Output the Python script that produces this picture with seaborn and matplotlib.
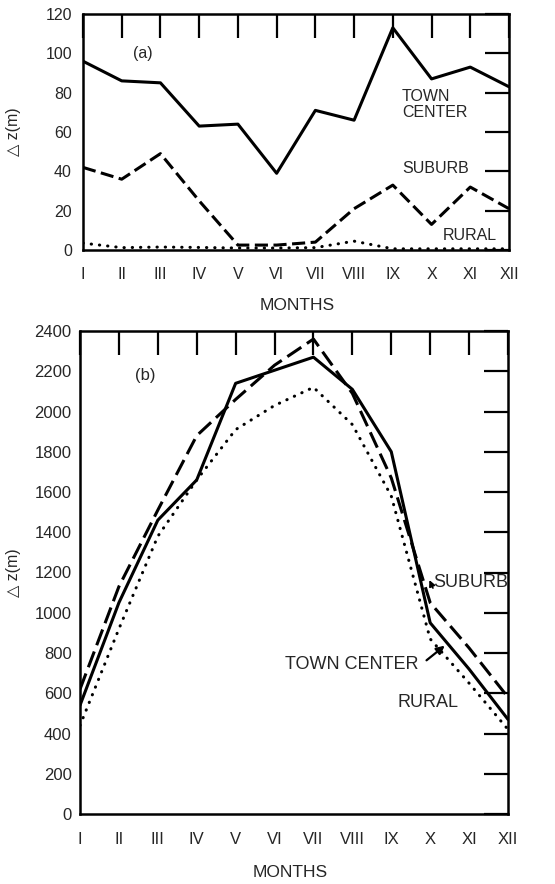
import numpy as np
import pandas as pd
import matplotlib
matplotlib.use("Agg")
import matplotlib.pyplot as plt
import seaborn as sns

# ---------------- data ----------------
months = ["I", "II", "III", "IV", "V", "VI", "VII", "VIII", "IX", "X", "XI", "XII"]
month_pos = list(range(1, 13))

# panel (a)
town_a = [96, 86, 85, 63, 64, 39, 71, 66, 113, 87, 93, 83]
suburb_a = [42, 36, 49, 25, 2.5, 2.5, 4, 21, 33, 13, 32, 21]
rural_a = [3.5, 1.2, 1.5, 1.3, 1, 1, 1.2, 4.5, 0.6, 0.6, 0.6, 0.6]

# panel (b)
town_b = [540, 1050, 1460, 1660, 2140, 2205, 2270, 2110, 1800, 950, 720, 470]
suburb_b = [620, 1130, 1510, 1880, 2060, 2230, 2360, 2090, 1670, 1050, 825, 580]
rural_b = [440, 920, 1380, 1660, 1910, 2030, 2120, 1935, 1580, 870, 650, 420]

yticks_a = [0, 20, 40, 60, 80, 100, 120]
yticks_b = list(range(0, 2401, 200))

# ---------------- style ----------------
sns.set_style("white")
plt.rcParams['font.family'] = ['Liberation Sans', 'DejaVu Sans']

fig = plt.figure(figsize=(5.55, 8.84), dpi=100)
ax1 = fig.add_axes([83 / 555, 1 - 250 / 884, 426 / 555, 236 / 884])
ax2 = fig.add_axes([80 / 555, 1 - 814 / 884, 428 / 555, 483 / 884])

LW = 2.2


def draw(ax, town, suburb, rural, dash):
    df = pd.DataFrame({"month": month_pos * 3,
                       "dz": town + suburb + rural,
                       "zone": ["TOWN CENTER"] * 12 + ["SUBURB"] * 12 + ["RURAL"] * 12})
    sns.lineplot(data=df[df.zone == "RURAL"], x="month", y="dz", ax=ax, color="black",
                 lw=LW, linestyle=(0, (0.1, 2.6)), dash_capstyle="round", legend=False)
    sns.lineplot(data=df[df.zone == "SUBURB"], x="month", y="dz", ax=ax, color="black",
                 lw=LW, linestyle=(0, dash), legend=False)
    sns.lineplot(data=df[df.zone == "TOWN CENTER"], x="month", y="dz", ax=ax, color="black",
                 lw=LW, linestyle="-", legend=False)


draw(ax1, town_a, suburb_a, rural_a, (4.3, 1.8))
draw(ax2, town_b, suburb_b, rural_b, (5.5, 2.2))

for ax, yt, ylim, xpad, ypad in [(ax1, yticks_a, 120, 12, 8), (ax2, yticks_b, 2400, 13, 6)]:
    ax.set_xlim(1, 12)
    ax.set_ylim(0, ylim)
    ax.set_xticks(month_pos, months)
    ax.set_yticks(yt)
    ax.tick_params(axis="both", direction="in", top=True, right=True,
                   length=17, width=1.6, color="black", labelsize=11.5)
    ax.tick_params(axis="x", pad=xpad)
    ax.tick_params(axis="y", pad=ypad)
    for s in ax.spines.values():
        s.set_linewidth(1.8)
        s.set_color("black")
    ax.set_xlabel("MONTHS", fontsize=12.5)
    ax.set_ylabel("\u25b3 z(m)", fontsize=11.5)

ax1.xaxis.set_label_coords(0.502, -0.205)
ax1.yaxis.set_label_coords(-0.146, 0.5)
ax2.xaxis.set_label_coords(0.49, -0.105)
ax2.yaxis.set_label_coords(-0.138, 0.5)
ax2.tick_params(labelsize=12)

# annotations panel (a)
ax1.text(2.55, 100, "(a)", ha="center", va="center", fontsize=11.5)
ax1.text(9.24, 74, "TOWN\nCENTER", ha="left", va="center", fontsize=11.5, linespacing=1.15)
ax1.text(9.24, 41.5, "SUBURB", ha="left", va="center", fontsize=11.5)
ax1.text(10.3, 7.6, "RURAL", ha="left", va="center", fontsize=11.5)

# annotations panel (b)
ax2.text(2.67, 2180, "(b)", ha="center", va="center", fontsize=12)
ax2.text(10.07, 1150, "SUBURB", ha="left", va="center", fontsize=13)
ax2.text(9.7, 745, "TOWN CENTER", ha="right", va="center", fontsize=13)
ax2.text(9.17, 552, "RURAL", ha="left", va="center", fontsize=13)
ax2.annotate("", xy=(10.43, 845), xytext=(9.85, 755),
             arrowprops=dict(arrowstyle="-|>", color="black", lw=1.6, mutation_scale=12))
ax2.annotate("", xy=(9.95, 1175), xytext=(10.1, 1110),
             arrowprops=dict(arrowstyle="-|>", color="black", lw=1.2, mutation_scale=9))

fig.savefig("out.png", dpi=100)
